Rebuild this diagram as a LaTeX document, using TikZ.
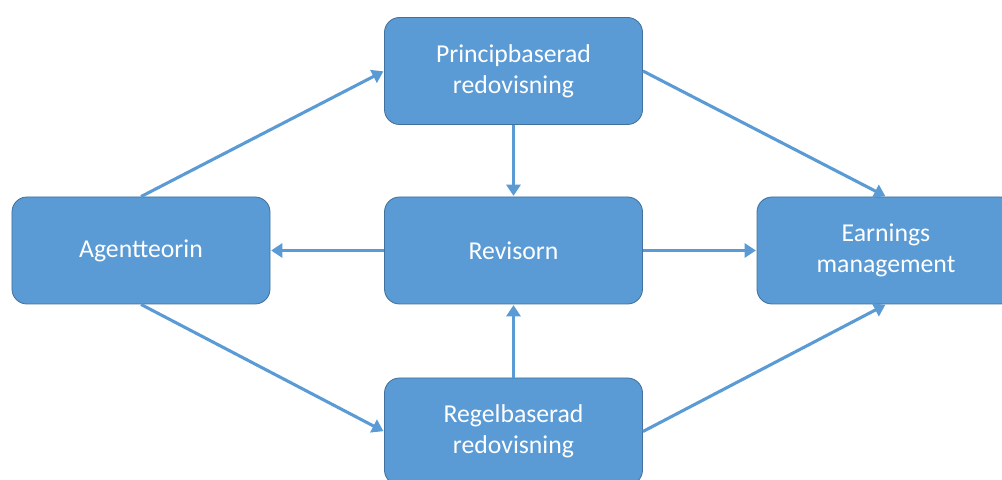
\documentclass[tikz,border=0pt]{standalone}
\usepackage{fontspec}
\setmainfont{Carlito}
\usepackage{tikz}
\usetikzlibrary{arrows.meta}
\usetikzlibrary{positioning}

\begin{document}
\begin{tikzpicture}

    % Farben
    \definecolor{boxcolor}{HTML}{5B9BD5}
    \definecolor{bordercolor}{HTML}{41719C}
    \definecolor{arrowcolor}{HTML}{5B9BD5}

    \tikzset{
        box/.style={draw=bordercolor, line width=0.6pt, fill=boxcolor, rounded corners=0.375cm,
            minimum width=6.45cm, minimum height=2.675cm, align=center,
            text=white, font=\fontsize{18.3}{22}\selectfont},
        pfeil/.style={draw=arrowcolor, line width=2.2pt,
            -{Triangle[length=8pt, width=10pt]}, shorten >=0.5pt}
    }

    % Rahmen
    \useasboundingbox (0,0) rectangle (25.05,11.975);
    \clip (0,0) rectangle (25.05,11.975);

    % Kästen
    \node[box] (agent) at (3.525, 5.7125) {Agentteorin};
    \node[box] (princip) at (12.8375, 10.2) {Principbaserad\\redovisning};
    \node[box] (revisorn) at (12.8375, 5.7125) {Revisorn};
    \node[box] (earnings) at (22.15, 5.7125) {Earnings\\management};
    \node[box] (regel) at (12.8375, 1.1875) {Regelbaserad\\redovisning};

    % Pfeile
    \draw[pfeil] (agent.north) -- (princip.west);
    \draw[pfeil] (agent.south) -- (regel.west);
    \draw[pfeil] (princip.south) -- (revisorn.north);
    \draw[pfeil] (regel.north) -- (revisorn.south);
    \draw[pfeil] (revisorn.west) -- (agent.east);
    \draw[pfeil] (revisorn.east) -- (earnings.west);
    \draw[pfeil] (princip.east) -- (earnings.north);
    \draw[pfeil] (regel.east) -- (earnings.south);

\end{tikzpicture}
\end{document}
